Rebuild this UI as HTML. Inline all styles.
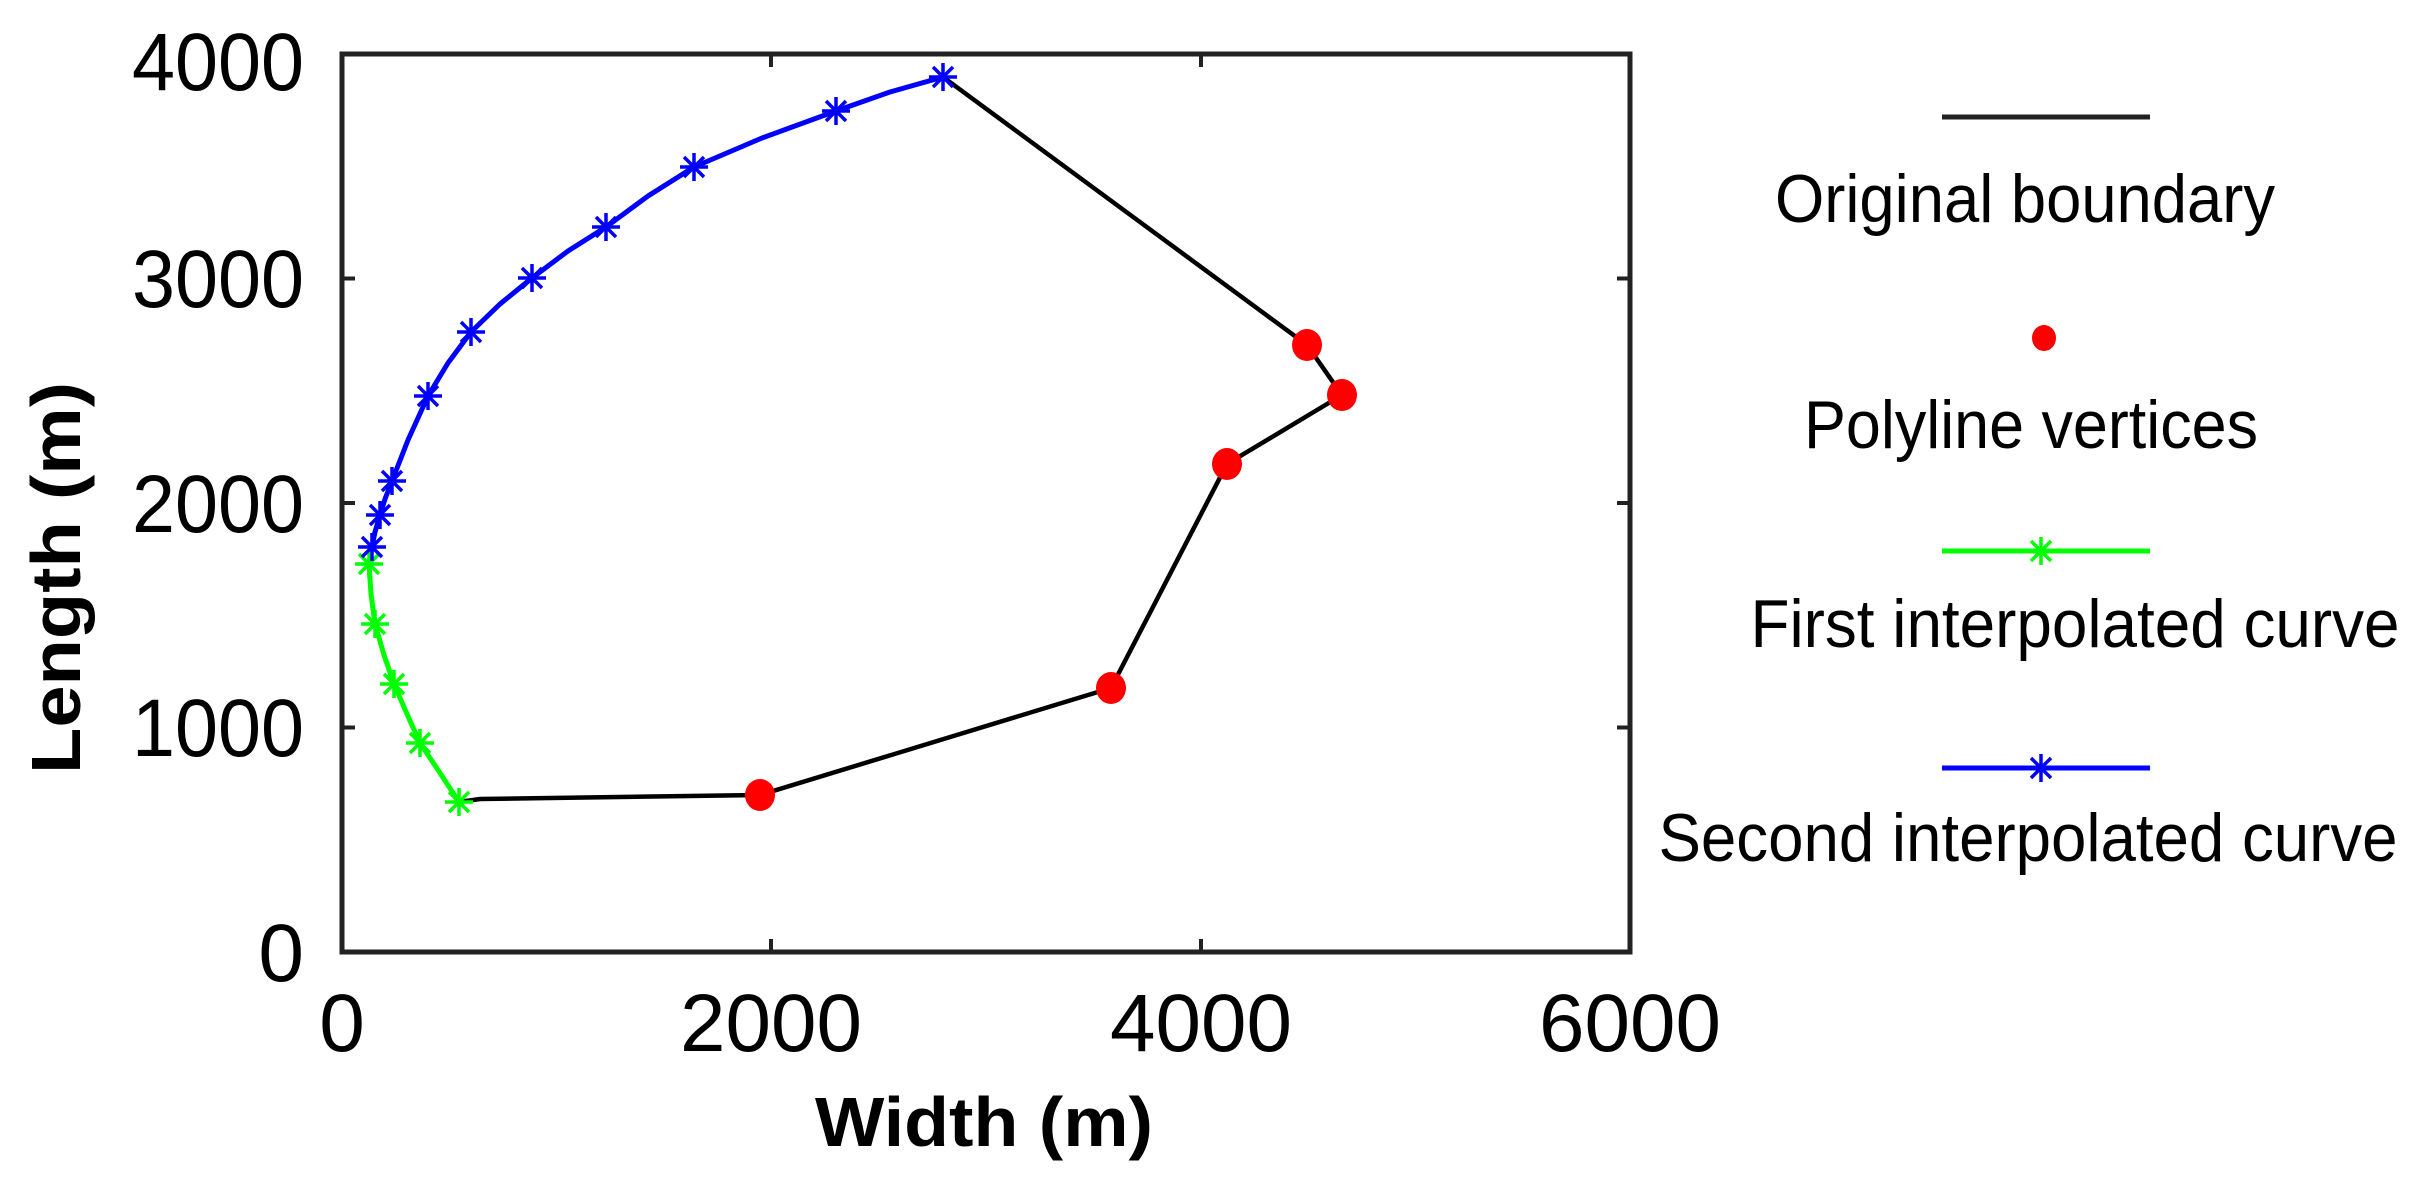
<!DOCTYPE html>
<html><head><meta charset="utf-8"><style>html,body{margin:0;padding:0;background:#fff}svg{display:block}</style></head>
<body>
<svg width="2413" height="1179" viewBox="0 0 2413 1179" xmlns="http://www.w3.org/2000/svg" font-family="Liberation Sans, Arial, sans-serif">
<defs>
<g id="sb" stroke="#0000ff" stroke-width="3.5"><path d="M-14 0H14M0 -14V14M-10 -10L10 10M-10 10L10 -10"/></g>
<g id="sg" stroke="#00ff00" stroke-width="3.5"><path d="M-14 0H14M0 -14V14M-10 -10L10 10M-10 10L10 -10"/></g>
</defs>
<rect width="2413" height="1179" fill="#fff"/>
<rect x="342" y="54" width="1288" height="898" fill="none" stroke="#222" stroke-width="5"/>
<g stroke="#222" stroke-width="4">
<path d="M771 952v-13M1201 952v-13M771 54v13M1201 54v13"/>
<path d="M342 727.5h13M342 503h13M342 278.5h13M1630 727.5h-13M1630 503h-13M1630 278.5h-13"/>
</g>
<g font-size="82" fill="#000">
<text x="342" y="1051" text-anchor="middle">0</text>
<text x="771" y="1051" text-anchor="middle" textLength="182" lengthAdjust="spacingAndGlyphs">2000</text>
<text x="1201" y="1051" text-anchor="middle" textLength="182" lengthAdjust="spacingAndGlyphs">4000</text>
<text x="1630" y="1051" text-anchor="middle" textLength="182" lengthAdjust="spacingAndGlyphs">6000</text>
<text x="304" y="981" text-anchor="end">0</text>
<text x="304" y="756" text-anchor="end" textLength="172" lengthAdjust="spacingAndGlyphs">1000</text>
<text x="304" y="532" text-anchor="end" textLength="172" lengthAdjust="spacingAndGlyphs">2000</text>
<text x="304" y="307" text-anchor="end" textLength="172" lengthAdjust="spacingAndGlyphs">3000</text>
<text x="304" y="90" text-anchor="end" textLength="172" lengthAdjust="spacingAndGlyphs">4000</text>
</g>
<text x="984" y="1146" font-size="70" font-weight="bold" text-anchor="middle" textLength="338" lengthAdjust="spacingAndGlyphs">Width (m)</text>
<text transform="translate(80,578) rotate(-90)" font-size="70" font-weight="bold" text-anchor="middle" textLength="392" lengthAdjust="spacingAndGlyphs">Length (m)</text>
<polyline fill="none" stroke="#000" stroke-width="4.5" points="459,802 480,799 760,795 1111,688 1227,464 1342,395 1307,345 943,77"/>
<polyline fill="none" stroke="#00ff00" stroke-width="5" stroke-linejoin="round" points="372,547 369,564 371,594 375,624 384,655 394,684 407,714 420,743 440,773 459,802"/>
<g><use href="#sg" x="369" y="564"/><use href="#sg" x="375" y="624"/><use href="#sg" x="394" y="684"/><use href="#sg" x="420" y="743"/><use href="#sg" x="459" y="802"/></g>
<polyline fill="none" stroke="#0000ff" stroke-width="5" stroke-linejoin="round" points="943,77 890,92 836,111 762,138 694,167 648,196 606,227 568,251 532,278 500,304 471,332 448,363 428,396 408,440 392,481 385,499 380,515 375,532 372,547"/>
<g><use href="#sb" x="943" y="77"/><use href="#sb" x="836" y="111"/><use href="#sb" x="694" y="167"/><use href="#sb" x="606" y="227"/><use href="#sb" x="532" y="278"/><use href="#sb" x="471" y="332"/><use href="#sb" x="428" y="396"/><use href="#sb" x="392" y="481"/><use href="#sb" x="380" y="515"/><use href="#sb" x="372" y="547"/></g>
<g fill="#ff0000">
<ellipse cx="760" cy="795" rx="15" ry="16"/><ellipse cx="1111" cy="688" rx="15" ry="16"/><ellipse cx="1227" cy="464" rx="15" ry="16"/><ellipse cx="1342" cy="395" rx="15" ry="16"/><ellipse cx="1307" cy="345" rx="15" ry="16"/>
</g>
<line x1="1942" y1="117" x2="2150" y2="117" stroke="#222" stroke-width="5"/>
<text x="2025" y="222" font-size="68" text-anchor="middle" textLength="500" lengthAdjust="spacingAndGlyphs">Original boundary</text>
<ellipse cx="2044" cy="338" rx="12" ry="13" fill="#ff0000"/>
<text x="2031" y="448" font-size="68" text-anchor="middle" textLength="454" lengthAdjust="spacingAndGlyphs">Polyline vertices</text>
<line x1="1942" y1="551" x2="2150" y2="551" stroke="#00ff00" stroke-width="5"/>
<use href="#sg" x="2041" y="551"/>
<text x="2075" y="647" font-size="68" text-anchor="middle" textLength="649" lengthAdjust="spacingAndGlyphs">First interpolated curve</text>
<line x1="1942" y1="768" x2="2150" y2="768" stroke="#0000ff" stroke-width="5"/>
<use href="#sb" x="2041" y="768"/>
<text x="2028" y="861" font-size="68" text-anchor="middle" textLength="739" lengthAdjust="spacingAndGlyphs">Second interpolated curve</text>
</svg>
</body></html>
